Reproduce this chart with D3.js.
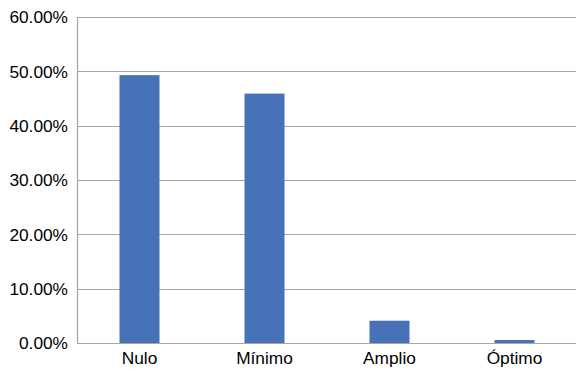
<!DOCTYPE html>
<html>
<head>
<meta charset="utf-8">
<script src="https://cdn.jsdelivr.net/npm/d3@7"></script>
<style>
  html, body { margin: 0; padding: 0; background: #fff; }
  svg { display: block; font-family: "Liberation Sans", Arial, sans-serif; }
</style>
</head>
<body>
<svg id="chart" width="576" height="371"></svg>
<script>
// Distribution by level
const categories = ["Nulo", "Mínimo", "Amplio", "Óptimo"];
const values = [0.493, 0.459, 0.041, 0.0055];
const yTicks = [0, 0.1, 0.2, 0.3, 0.4, 0.5, 0.6];

const svg = d3.select("#chart");
const margin = { left: 77, right: -1, top: 17, bottom: 28 };
const W = 576, H = 371;

const x = d3.scaleBand()
  .domain(categories)
  .range([margin.left, W - margin.right])
  .paddingInner(0.68)
  .paddingOuter(0.34);

const y = d3.scaleLinear()
  .domain([0, 0.6])
  .range([H - margin.bottom, margin.top]);

// gridlines
svg.append("g")
  .selectAll("line")
  .data(yTicks)
  .join("line")
  .attr("x1", margin.left)
  .attr("x2", W)
  .attr("y1", d => Math.round(y(d)) + 0.5)
  .attr("y2", d => Math.round(y(d)) + 0.5)
  .attr("stroke", "#a6a6a6")
  .attr("stroke-width", 1.2);

// left axis line
svg.append("line")
  .attr("x1", margin.left + 0.5)
  .attr("x2", margin.left + 0.5)
  .attr("y1", Math.round(y(0.6)))
  .attr("y2", Math.round(y(0)) + 1)
  .attr("stroke", "#a6a6a6")
  .attr("stroke-width", 1.2);

// bars
svg.append("g")
  .selectAll("rect")
  .data(values)
  .join("rect")
  .attr("x", (d, i) => x(categories[i]))
  .attr("width", x.bandwidth())
  .attr("y", d => y(d))
  .attr("height", d => y(0) - y(d))
  .attr("fill", "#4872b8");

// y tick labels
const fmt = d3.format(".2%");
svg.append("g")
  .selectAll("text")
  .data(yTicks)
  .join("text")
  .attr("x", 68)
  .attr("y", d => y(d))
  .attr("dy", "0.36em")
  .attr("text-anchor", "end")
  .attr("font-size", 17.3)
  .attr("fill", "#000")
  .text(d => fmt(d));

// category labels
svg.append("g")
  .selectAll("text")
  .data(categories)
  .join("text")
  .attr("x", d => x(d) + x.bandwidth() / 2)
  .attr("y", 364)
  .attr("text-anchor", "middle")
  .attr("font-size", 17.3)
  .attr("fill", "#000")
  .text(d => d);
</script>
</body>
</html>
